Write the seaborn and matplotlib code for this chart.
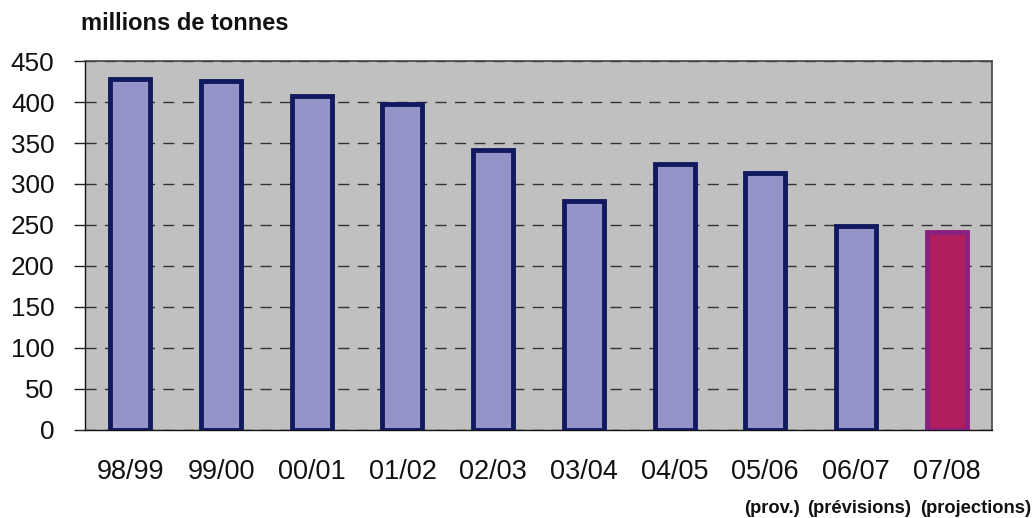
import matplotlib
matplotlib.use("Agg")
import matplotlib.pyplot as plt
import seaborn as sns
import numpy as np

categories = ["98/99", "99/00", "00/01", "01/02", "02/03", "03/04", "04/05", "05/06", "06/07", "07/08"]
values = [428, 426, 407, 397, 342, 279, 324, 313, 249, 241]
notes = ["(prov.)", "(prévisions)", "(projections)"]
ytick_vals = [0, 50, 100, 150, 200, 250, 300, 350, 400, 450]

fill_main = "#9494C8"
edge_main = "#111A5E"
fill_last = "#B01E5E"
edge_last = "#88207F"

sns.set_theme(style="white")
plt.rcParams["font.family"] = ["Liberation Sans", "DejaVu Sans"]

fig = plt.figure(figsize=(10.35, 5.18), dpi=100)
ax = fig.add_axes([0.0821, 0.170, 0.8764, 0.7122])
ax.set_facecolor("#C0C0C0")

palette = [fill_main] * (len(categories) - 1) + [fill_last]
sns.barplot(x=categories, y=values, hue=categories, palette=palette, legend=False,
            width=0.44, saturation=1, ax=ax, zorder=3)
for i, p in enumerate(ax.patches):
    p.set_edgecolor(edge_last if i == len(categories) - 1 else edge_main)
    p.set_linewidth(3.5)
    p.set_joinstyle("miter")

ax.set_xlim(-0.5, len(categories) - 0.5)
ax.set_ylim(0, 450)
ax.set_yticks(ytick_vals)
ax.set_yticklabels([str(v) for v in ytick_vals], fontsize=18.8, color="#111111")
ax.yaxis.grid(True, linestyle=(0, (8, 6)), color="#333333", linewidth=1.0, zorder=1)
ax.xaxis.grid(False)
ax.set_axisbelow(True)

ax.set_xticks(range(len(categories)))
ax.set_xticklabels(categories, fontsize=19.5, color="#111111")
ax.set_xticks(np.arange(-0.5, len(categories), 1.0), minor=True)
ax.tick_params(axis="x", which="major", length=0, pad=21)
ax.tick_params(axis="x", which="minor", length=9, width=1, color="#222222", direction="out")
ax.tick_params(axis="y", which="major", length=8, width=1, color="#222222", direction="out", pad=14, left=True)

for s in ["left", "bottom"]:
    ax.spines[s].set_color("#111111")
    ax.spines[s].set_linewidth(1.0)
for s in ["top", "right"]:
    ax.spines[s].set_color("#444444")
    ax.spines[s].set_linewidth(1.2)

ax.set_xlabel("")
ax.set_ylabel("")

fig.text(0.078, 0.955, "millions de tonnes", fontsize=17, fontweight="bold",
         ha="left", va="center", color="#111111")

note_x = [7.07, 8.04, 9.32]
for xv, t in zip(note_x, notes):
    ax.annotate(t, xy=(xv, 0), xycoords=("data", "axes fraction"),
                xytext=(0, -79), textcoords="offset pixels",
                ha="center", va="center", fontsize=13.2, fontweight="bold",
                color="#111111", annotation_clip=False)

fig.savefig("out.png", dpi=100)
